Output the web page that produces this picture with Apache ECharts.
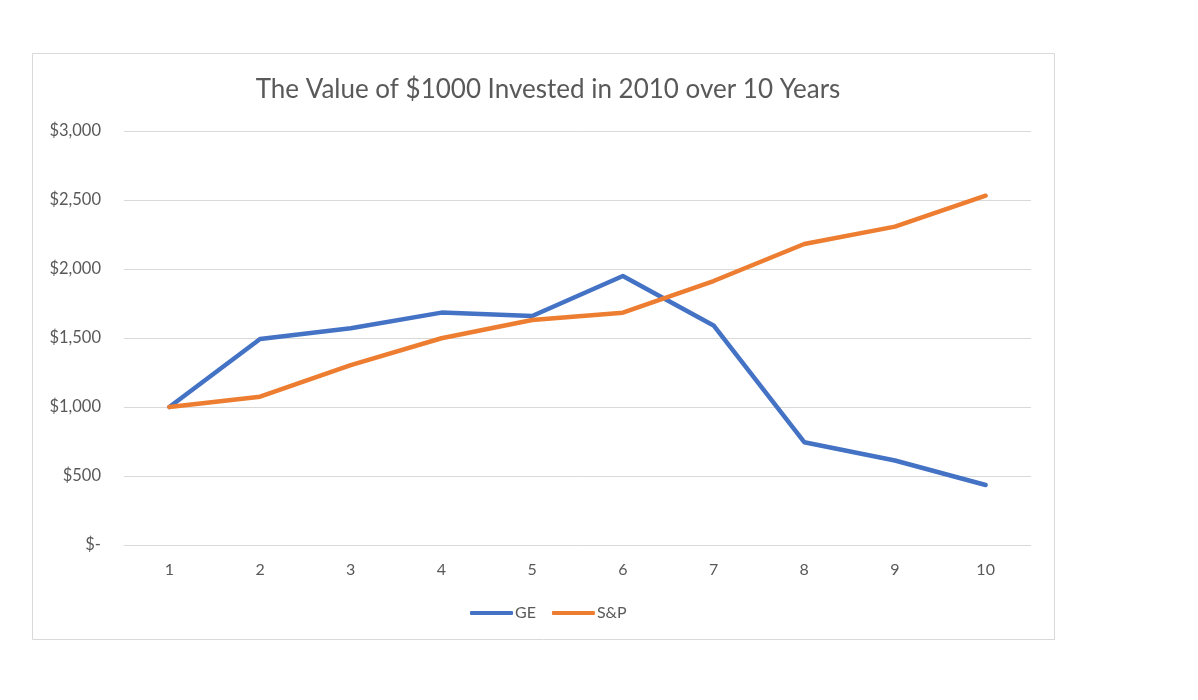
<!DOCTYPE html>
<html>
<head>
<meta charset="utf-8">
<script src="https://cdn.jsdelivr.net/npm/echarts@6/dist/echarts.min.js"></script>
<style>
html,body{margin:0;padding:0;background:#fff;}
#c{width:1198px;height:700px;}
</style>
</head>
<body>
<div id="c"></div>
<script>
const categories = ['1','2','3','4','5','6','7','8','9','10'];
const geValues = [1000, 1493, 1571, 1684, 1659, 1949, 1591, 745, 612, 435];
const spValues = [1000, 1075, 1304, 1498, 1630, 1683, 1913, 2181, 2307, 2531];
const seriesNames = ['GE', 'S&P'];
const titleText = 'The Value of $1000 Invested in 2010 over 10 Years';

const FONT = 'Lato, "Open Sans", sans-serif';
const chart = echarts.init(document.getElementById('c'), null, {renderer: 'canvas'});
chart.setOption({
  backgroundColor: '#fff',
  animation: false,
  graphic: [{
    type: 'rect',
    shape: {x: 32.5, y: 53.5, width: 1022, height: 586},
    style: {fill: 'none', stroke: '#d9d9d9', lineWidth: 1},
    silent: true, z: -1
  }],
  title: {
    text: titleText,
    left: 543, top: 72, textAlign: 'center',
    textStyle: {fontFamily: FONT, fontSize: 26, fontWeight: 'normal', color: '#595959'}
  },
  grid: {left: 124, right: 167, top: 131, bottom: 155, containLabel: false},
  legend: {
    data: seriesNames,
    left: 465, top: 600,
    itemWidth: 43, itemHeight: 4, itemGap: 16,
    icon: 'roundRect',
    textStyle: {fontFamily: FONT, fontSize: 16, color: '#595959', padding: [0,0,0,-3]}
  },
  xAxis: {
    type: 'category',
    data: categories,
    boundaryGap: true,
    axisLine: {show: false},
    axisTick: {show: false},
    axisLabel: {fontFamily: FONT, fontSize: 16, color: '#595959', margin: 17}
  },
  yAxis: {
    type: 'value',
    min: 0, max: 3000, interval: 500,
    axisLine: {show: false},
    axisTick: {show: false},
    splitLine: {lineStyle: {color: '#d9d9d9', width: 1}},
    axisLabel: {
      fontFamily: FONT, fontSize: 16.5, color: '#595959', margin: 23,
      formatter: function(v){ return v === 0 ? '$-' : '$' + v.toLocaleString('en-US'); }
    }
  },
  series: [
    {name: seriesNames[0], type: 'line', data: geValues, symbol: 'none',
     lineStyle: {color: '#4472C4', width: 4.5, cap: 'round', join: 'round'}, itemStyle: {color: '#4472C4'}},
    {name: seriesNames[1], type: 'line', data: spValues, symbol: 'none',
     lineStyle: {color: '#ED7D31', width: 4.5, cap: 'round', join: 'round'}, itemStyle: {color: '#ED7D31'}}
  ]
});
</script>
</body>
</html>
